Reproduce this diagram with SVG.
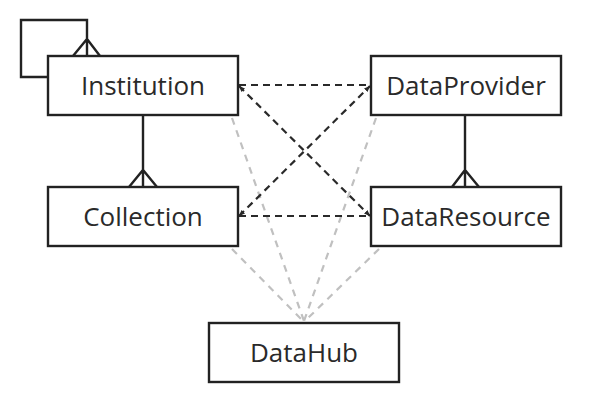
<svg xmlns="http://www.w3.org/2000/svg" width="610" height="414" viewBox="0 0 610 414">
<style>
.box{fill:#fff;stroke:#222;stroke-width:2.4}
.lbl{font-family:"Open Sans","Liberation Sans",sans-serif;font-size:26px;fill:#2a2a2a;text-anchor:middle}
.rel{fill:none;stroke:#222;stroke-width:2.4}
.dk{fill:none;stroke:#2a2a2a;stroke-width:2.2;stroke-dasharray:7 5}
.gr{fill:none;stroke:#c0c0c0;stroke-width:2.2;stroke-dasharray:7 6}
</style>
<defs>
<marker id="tip" viewBox="0 0 6 6" refX="6" refY="3" markerWidth="6" markerHeight="6" markerUnits="userSpaceOnUse" orient="auto-start-reverse">
<path d="M0,0.5 L6,3 L0,5.5 Z" fill="#2a2a2a"/>
</marker>
</defs>
<g id="connectors">
<path class="gr" d="M232,118 L304,321"/>
<path class="gr" d="M376,118 L304,321"/>
<path class="gr" d="M232,249 L302,320"/>
<path class="gr" d="M379,249 L306,320"/>
<path class="dk" d="M239,85 H370"/>
<path class="dk" d="M239,216 H370"/>
<path class="dk" d="M239,86 L370,216" marker-start="url(#tip)" marker-end="url(#tip)"/>
<path class="dk" d="M239,216 L370,86" marker-start="url(#tip)" marker-end="url(#tip)"/>
<path class="rel" d="M48,77 H21 V20 H87 V56 M73,56 L87,39 L100,56"/>
<path class="rel" d="M143,115 V187 M129,187 L143,170 L157,187"/>
<path class="rel" d="M465,115 V187 M452,187 L465,170 L479,187"/>
</g>
<g id="Institution"><rect class="box" x="48" y="56" width="190" height="59"/><text class="lbl" x="143" y="95">Institution</text></g>
<g id="DataProvider"><rect class="box" x="371" y="56" width="190" height="59"/><text class="lbl" x="466" y="95">DataProvider</text></g>
<g id="Collection"><rect class="box" x="48" y="187" width="190" height="59"/><text class="lbl" x="143" y="226">Collection</text></g>
<g id="DataResource"><rect class="box" x="371" y="187" width="190" height="59"/><text class="lbl" x="466" y="226">DataResource</text></g>
<g id="DataHub"><rect class="box" x="209" y="323" width="190" height="59"/><text class="lbl" x="304" y="362">DataHub</text></g>
</svg>
